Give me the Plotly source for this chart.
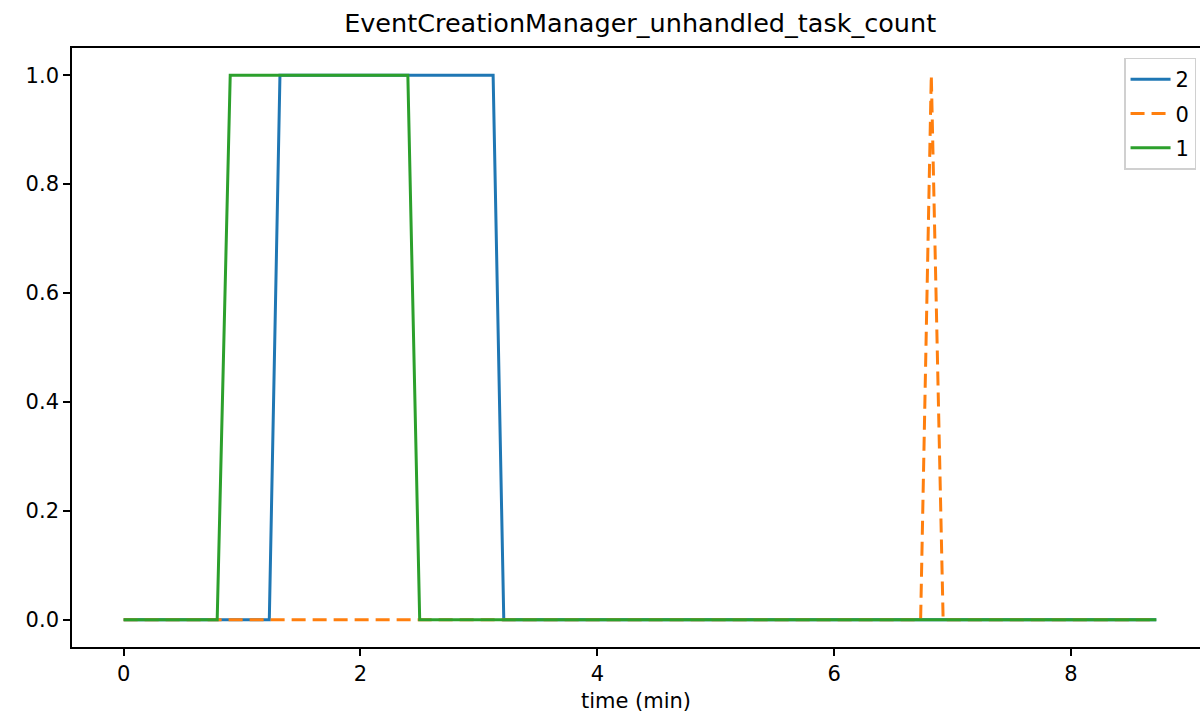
import plotly.graph_objects as go

title = "EventCreationManager_unhandled_task_count"
x_label = "time (min)"

# series "2" (blue)
t2 = [0.0, 1.23, 1.32, 3.12, 3.21, 8.72]
v2 = [0, 0, 1, 1, 0, 0]
# series "0" (orange, dashed)
t0 = [0.0, 6.73, 6.82, 6.92, 8.72]
v0 = [0, 0, 1, 0, 0]
# series "1" (green)
t1 = [0.0, 0.79, 0.90, 2.40, 2.50, 8.72]
v1 = [0, 0, 1, 1, 0, 0]

x_ticks = [0, 2, 4, 6, 8]
y_ticks = [0.0, 0.2, 0.4, 0.6, 0.8, 1.0]

fig = go.Figure()
fig.add_trace(go.Scatter(x=t2, y=v2, mode="lines", name="2", legendgroup="g2",
                         line=dict(color="#1f77b4", width=3)))
fig.add_trace(go.Scatter(x=t0, y=v0, mode="lines", name="0", legendgroup="g0",
                         line=dict(color="#ff7f0e", width=3, dash="14px,7px")))
fig.add_trace(go.Scatter(x=t1, y=v1, mode="lines", name="1", legendgroup="g1",
                         line=dict(color="#2ca02c", width=3)))

font = "DejaVu Sans, sans-serif"
fig.update_layout(
    width=1201, height=721,
    margin=dict(l=72, r=1, t=48, b=74, autoexpand=False),
    paper_bgcolor="white", plot_bgcolor="white",
    font=dict(family=font, size=21, color="black"),
    title=dict(text=title, x=0.533, xanchor="center", y=0.968, yanchor="middle",
               font=dict(size=25.5, family=font, color="black")),
    showlegend=True,
    legend=dict(x=0.9965, xanchor="right", y=0.984, yanchor="top",
                bordercolor="#d0d0d0", borderwidth=1.5, bgcolor="rgba(255,255,255,0.8)",
                font=dict(size=21, family=font), itemwidth=40,
                tracegroupgap=4),
    xaxis=dict(range=[-0.436, 9.089], tickvals=x_ticks, ticktext=[str(v) for v in x_ticks],
               showgrid=False, zeroline=False, showline=True, linecolor="black", linewidth=1.6,
               mirror=True, ticks="outside", ticklen=7, tickwidth=1.6, tickcolor="black",
               automargin=False,
               title=dict(text=x_label, font=dict(size=21, family=font), standoff=8)),
    yaxis=dict(range=[-0.05, 1.05], tickvals=y_ticks, ticktext=[f"{v:.1f}" for v in y_ticks],
               showgrid=False, zeroline=False, showline=True, linecolor="black", linewidth=1.6,
               mirror=False, ticks="outside", ticklen=7, tickwidth=1.6, tickcolor="black",
               automargin=False),
)

fig.write_html("out.html", config={"displayModeBar": False},
               post_script="document.body.style.margin='0';")
